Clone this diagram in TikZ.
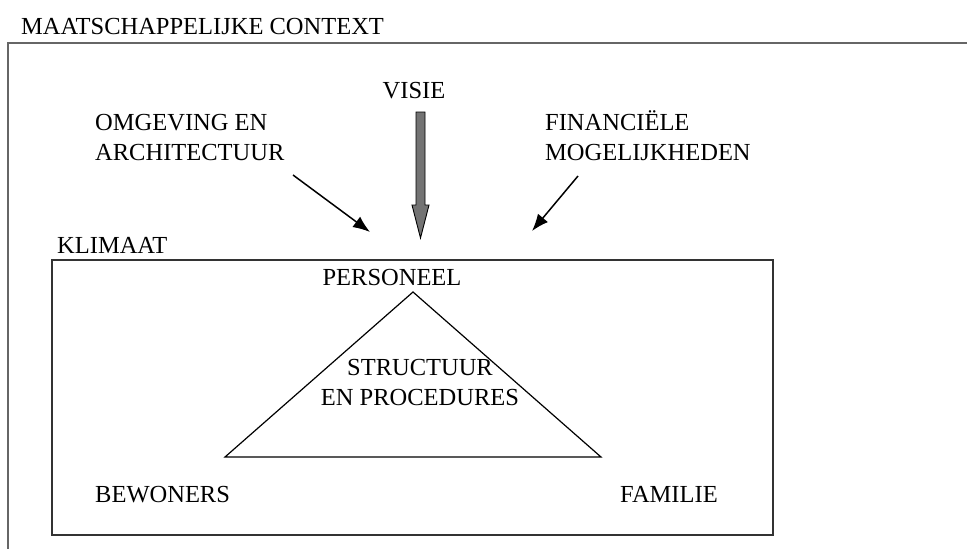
\documentclass[tikz,border=0pt]{standalone}
\usepackage{fontspec}
\setmainfont{Liberation Serif}
\usetikzlibrary{arrows.meta}
\tikzset{>=latex}
\tikzset{
    txt/.style={font=\fontsize{24.5}{30}\selectfont, inner sep=0pt},
    pointer/.style={line width=1.5pt, -{Latex[length=17pt, width=13pt]}},
}

\begin{document}
\begin{tikzpicture}[x=1pt, y=-1pt]
    \useasboundingbox(0, 0)rectangle(967, 549);
    \coordinate(ostart)at(293, 175);
    \coordinate(oend)at(370, 232);
    \coordinate(fstart)at(578, 176);
    \coordinate(fend)at(532, 231);
    \coordinate(vtip)at(420.5, 238);
    \coordinate(top)at(413, 292);
    \coordinate(left)at(225, 457);
    \coordinate(right)at(601, 457);
    \draw[gray!80!black, line width=1.2pt](967, 43)--(8, 43)--(8, 549);
    \node[txt, anchor=base west](context)at(21, 34){MAATSCHAPPELIJKE CONTEXT};
    \node[txt, anchor=base](visie)at(414, 98){VISIE};
    \node[txt, anchor=base west, align=left](omgeving)at(95, 160){OMGEVING EN\\ARCHITECTUUR};
    \node[txt, anchor=base west, align=left](financien)at(545, 160){FINANCIËLE\\MOGELIJKHEDEN};
    % brede pijl onder VISIE
    \filldraw[fill=black!55, draw=black, line width=0.9pt, line join=miter]
        (vtip)--++(-8.5, -33)--++(4, 0)--++(0, -93)--++(9, 0)--++(0, 93)--++(4, 0)--cycle;
    \draw[pointer](ostart)--(oend);
    \draw[pointer](fstart)--(fend);
    \node[txt, anchor=base west](klimaat)at(57, 253){KLIMAAT};
    \draw[black!80, line width=1.6pt](52, 260)rectangle(773, 535);
    \node[txt, anchor=base](personeel)at(392, 285){PERSONEEL};
    \draw[line width=1.2pt, line join=miter](top)--(right)--(left)--cycle;
    \node[txt, anchor=base, align=center](structuur)at(420, 405){STRUCTUUR\\EN PROCEDURES};
    \node[txt, anchor=base west](bewoners)at(95, 502){BEWONERS};
    \node[txt, anchor=base west](familie)at(620, 502){FAMILIE};
\end{tikzpicture}
\end{document}
